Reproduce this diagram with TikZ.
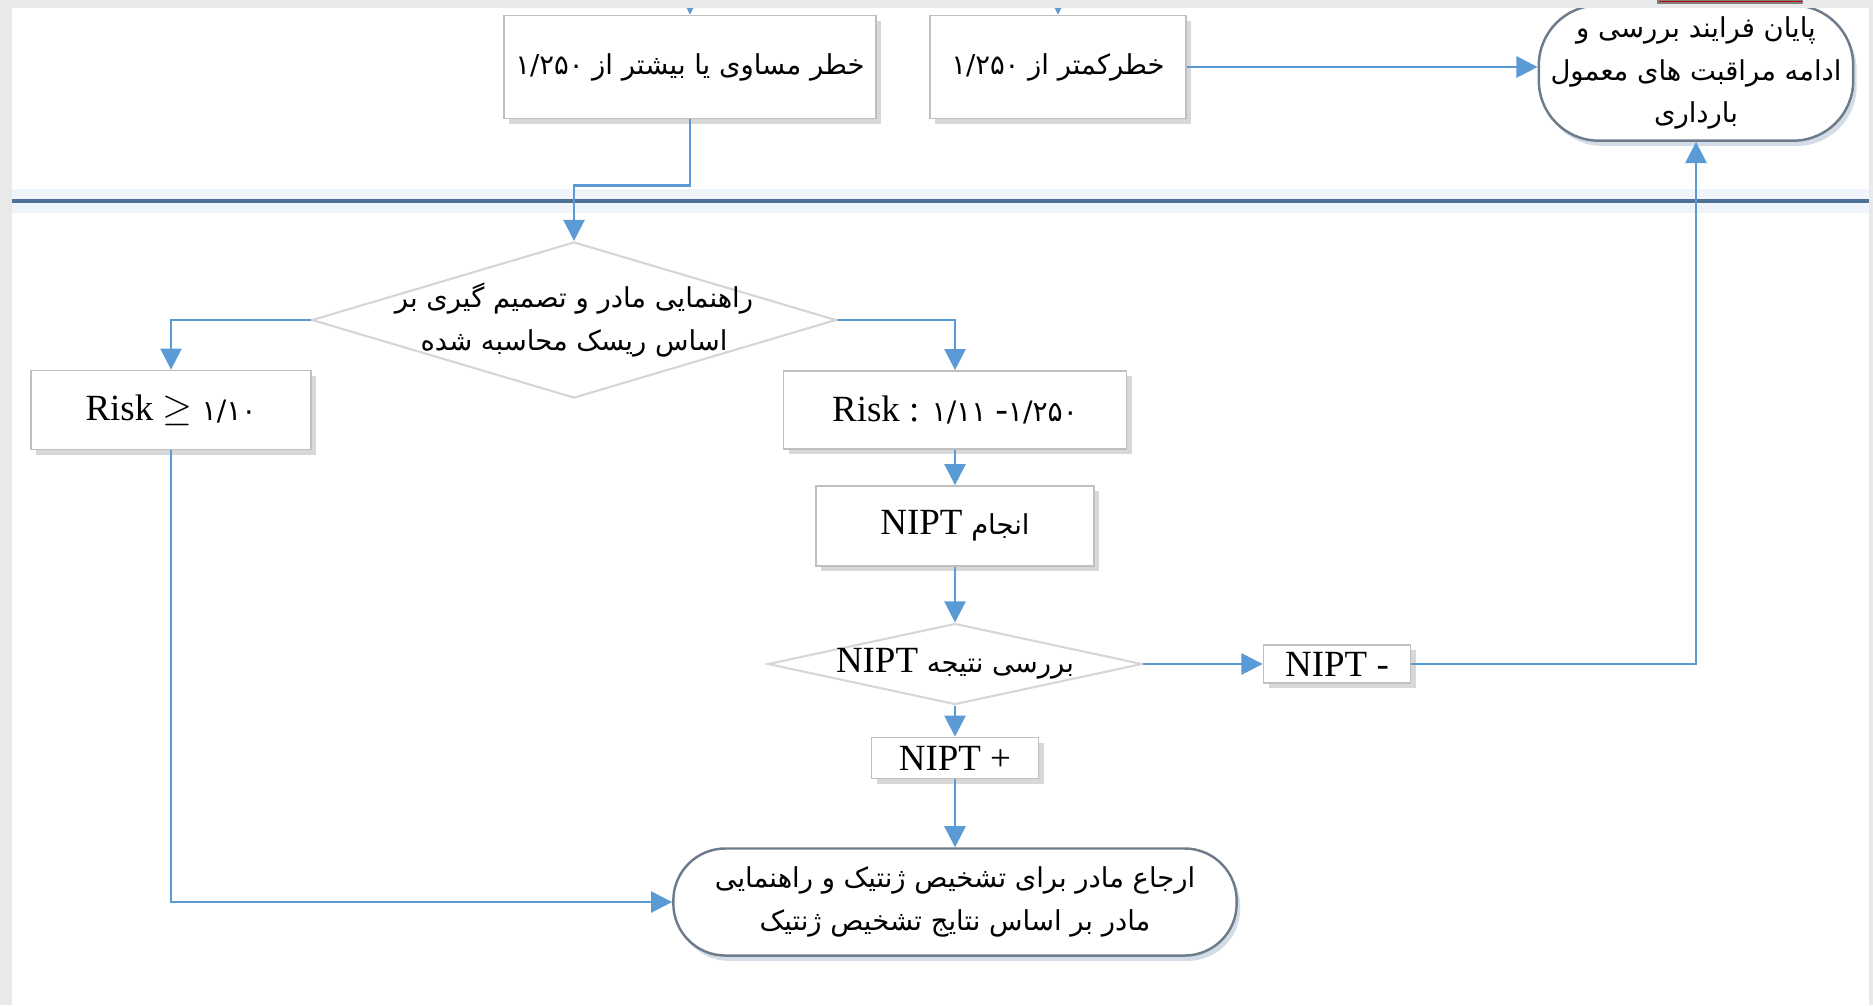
\documentclass[tikz,border=0pt]{standalone}
\usepackage{fontspec}
\setmainfont{Liberation Serif}
\newfontfamily\farsifont[Script=Arabic]{DejaVu Sans}
\usepackage{tikz}
\usetikzlibrary{positioning,arrows.meta,shapes.geometric,shadows}
\usepackage{xcolor}
\TeXXeTstate=1

\definecolor{flowblue}{HTML}{5B9BD5}
\definecolor{boxgrey}{HTML}{BFBFBF}
\definecolor{diagrey}{HTML}{D6D6D6}
\definecolor{termgrey}{HTML}{6D7B8A}
\definecolor{sepblue}{HTML}{4E7297}
\definecolor{pagegrey}{HTML}{E9E9E9}
\definecolor{markred}{HTML}{C00000}

\newcommand{\rtlline}[1]{\beginR #1\endR}
\newcommand{\ltrnum}[1]{\beginL #1\endL{}}
\newcommand{\latin}[1]{\beginL{\rmfamily\fontsize{10.5}{12}\selectfont #1}\endL{}}
\newcommand{\fanum}[1]{{\farsifont\fontsize{8}{12}\selectfont #1}}

\begin{document}
\begin{tikzpicture}[x=0.01cm, y=-0.01cm,
    box/.style={draw=boxgrey, fill=white, line width=0.5pt, inner sep=2pt, align=center,
        drop shadow={shadow xshift=1.5pt, shadow yshift=-1.5pt, opacity=0.25, fill=black!60}},
    term/.style={draw=termgrey, fill=white, line width=0.7pt, rounded corners=0.52cm, align=center,
        drop shadow={shadow xshift=1pt, shadow yshift=-1.5pt, opacity=0.3, fill=flowblue!60!gray}},
    dec/.style={diamond, draw=diagrey, fill=white, line width=0.6pt, inner sep=0pt},
    fa/.style={font=\farsifont\fontsize{7.8}{12}\selectfont},
    lat/.style={font=\fontsize{10.5}{12}\selectfont},
    arrow/.style={-{Triangle[length=6pt, width=6pt]}, draw=flowblue, line width=0.7pt}
]
\useasboundingbox (0,0) rectangle (1873,1005);
\fill[white] (0,0) rectangle (1873,1005);

\draw[line width=7pt, flowblue!10] (12,201) -- (1869,201);
\draw[line width=1.3pt, sepblue] (12,201) -- (1869,201);

\node[box, fa, minimum width=3.72cm, minimum height=1.03cm] (ge) at (690,67)
    {\rtlline{خطر مساوی یا بیشتر از \ltrnum{۱/۲۵۰}}};
\node[box, fa, minimum width=2.56cm, minimum height=1.03cm] (lt) at (1058,67)
    {\rtlline{خطرکمتر از \ltrnum{۱/۲۵۰}}};
\node[term, fa, minimum width=3.10cm, minimum height=1.30cm, rounded corners=0.6cm] (stop) at (1696,73)
    {\rtlline{پایان فرایند بررسی و}\\\rtlline{ادامه مراقبت های معمول}\\\rtlline{بارداری}};

\node[dec, minimum width=5.24cm, minimum height=1.56cm] (guide) at (574,320) {};
\node[fa, align=center, inner sep=0pt] (guidetext) at (guide)
    {\rtlline{راهنمایی مادر و تصمیم گیری بر}\\\rtlline{اساس ریسک محاسبه شده}};

\node[box, lat, minimum width=2.80cm, minimum height=0.79cm] (high) at (171,410)
    {Risk $\geq$ \fanum{۱/۱۰}};
\node[box, lat, minimum width=3.43cm, minimum height=0.78cm] (mid) at (955,410)
    {Risk : \fanum{۱/۱۱} -\fanum{۱/۲۵۰}};
\node[box, fa, minimum width=2.78cm, minimum height=0.80cm] (nipt) at (955,526)
    {\rtlline{انجام \latin{NIPT}}};

\node[dec, minimum width=3.74cm, minimum height=0.81cm] (check) at (955,664) {};
\node[fa, inner sep=0pt] (checktext) at (check) {\rtlline{بررسی نتیجه \latin{NIPT}}};

\node[box, lat, minimum width=1.47cm, minimum height=0.38cm, inner sep=1pt] (neg) at (1337,664) {NIPT -};
\node[box, lat, minimum width=1.67cm, minimum height=0.41cm, inner sep=1pt] (pos) at (955,758) {NIPT +};

\node[term, fa, minimum width=5.63cm, minimum height=1.07cm] (refer) at (955,902)
    {\rtlline{ارجاع مادر برای تشخیص ژنتیک و راهنمایی}\\\rtlline{مادر بر اساس نتایج تشخیص ژنتیک}};

\coordinate (inge) at (690,-4);
\coordinate (inlt) at (1058,-4);
\draw[arrow] (inge) -- (ge.north);
\draw[arrow] (inlt) -- (lt.north);
\draw[arrow] (lt.east) -- (lt.east -| stop.west);
\draw[arrow] (ge.south) -- ++(0,66) -| (guide.north);
\draw[arrow] (guide.west) -| (high.north);
\draw[arrow] (guide.east) -| (mid.north);
\draw[arrow] (mid) -- (nipt);
\draw[arrow] (nipt) -- (check);
\draw[arrow] (check.east) -- (neg.west);
\draw[arrow] (check) -- (pos);
\draw[arrow] (neg.east) -| (stop.south);
\draw[arrow] (pos) -- (refer);
\draw[arrow] (high.south) |- (refer.west);

\fill[pagegrey] (0,0) rectangle (1873,8);
\fill[pagegrey] (0,0) rectangle (12,1005);
\fill[pagegrey] (1869,0) rectangle (1873,1005);
\fill[markred, draw=black!50, line width=0.3pt] (1658,0) rectangle (1802,3);
\end{tikzpicture}
\end{document}
